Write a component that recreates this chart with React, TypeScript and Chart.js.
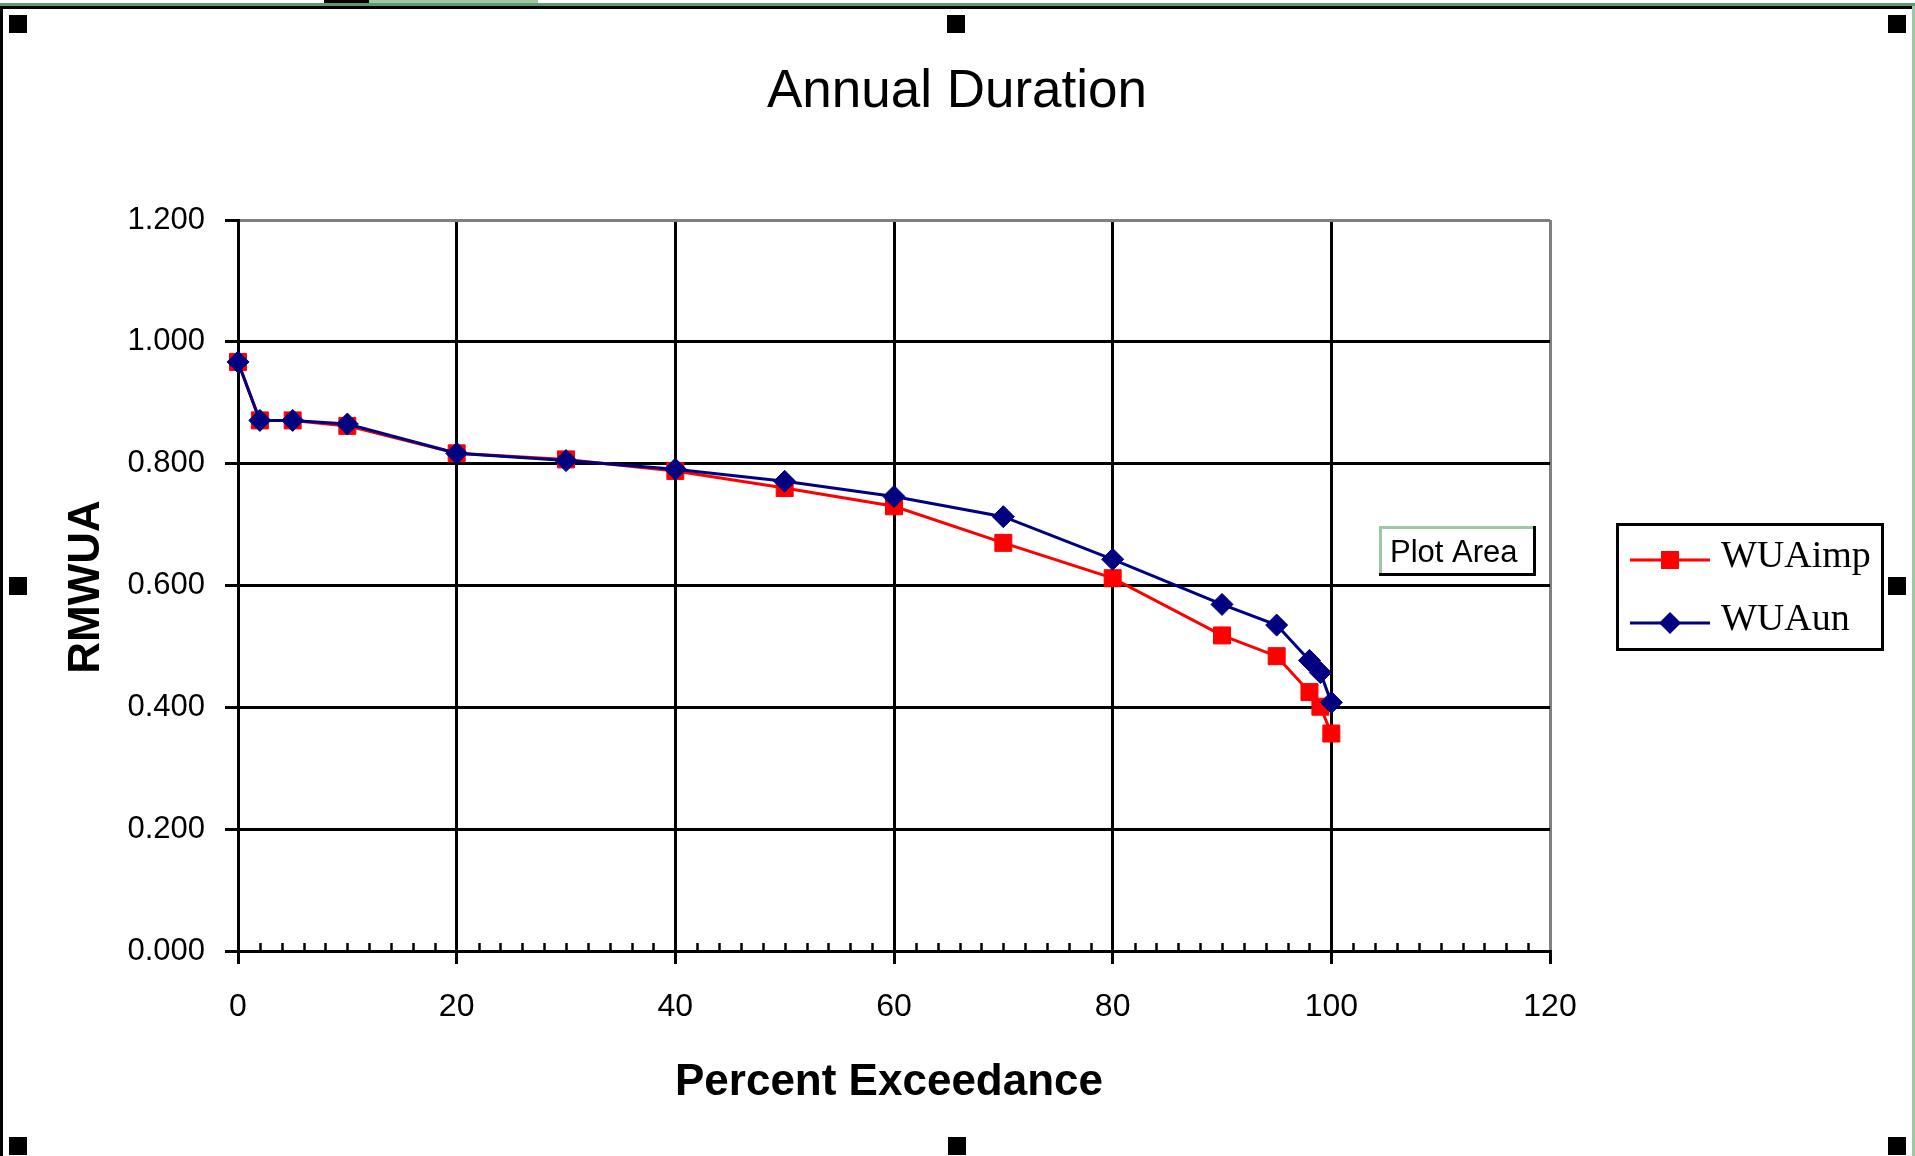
import React, { useEffect, useRef } from "react";
import { Chart, registerables } from "chart.js";

Chart.register(...registerables);

// ---- data ----
const percentExceedance = [0, 2, 5, 10, 20, 30, 40, 50, 60, 70, 80, 90, 95, 98, 99, 100];
const wuaImp = [0.967, 0.871, 0.871, 0.862, 0.817, 0.807, 0.788, 0.76, 0.73, 0.67, 0.612, 0.518, 0.484, 0.425, 0.401, 0.357];
const wuaUn = [0.967, 0.871, 0.871, 0.865, 0.817, 0.805, 0.791, 0.771, 0.746, 0.713, 0.643, 0.569, 0.535, 0.477, 0.457, 0.408];
const seriesNames = ["WUAimp", "WUAun"];
const xTickValues = [0, 20, 40, 60, 80, 100, 120];
const yTickValues = [0, 0.2, 0.4, 0.6, 0.8, 1.0, 1.2];
const chartTitle = "Annual Duration";
const xAxisTitle = "Percent Exceedance";
const yAxisTitle = "RMWUA";
const hoverTip = "Plot Area";

// ---- layout / style ----
const W = 1915;
const H = 1156;
const SANS = "'Liberation Sans', Arial, sans-serif";
const SERIF = "'Liberation Serif', 'Times New Roman', serif";
const RED = "#ff0000";
const NAVY = "#000080";
const FRAME_GREEN = "#5f9a6e";
const LIGHT_GREEN = "#9ec7a6";

function handle(ctx: CanvasRenderingContext2D, cx: number, cy: number) {
  ctx.fillStyle = "#000";
  ctx.fillRect(cx - 9, cy - 9, 18, 18);
}

const decorPlugin = {
  id: "decor",
  beforeDraw(chart: any) {
    const ctx: CanvasRenderingContext2D = chart.ctx;
    ctx.save();
    ctx.fillStyle = "#ffffff";
    ctx.fillRect(0, 0, chart.width, chart.height);
    ctx.restore();
  },
  afterDraw(chart: any) {
    const ctx: CanvasRenderingContext2D = chart.ctx;
    const xs = chart.scales.x;
    const area = chart.chartArea;
    ctx.save();

    // minor tick marks on the horizontal axis, inside the plot
    ctx.strokeStyle = "#000";
    ctx.lineWidth = 2.5;
    for (let v = 2; v < 120; v += 2) {
      if (v % 20 === 0) continue;
      const px = Math.round(xs.getPixelForValue(v)) + 0.5;
      ctx.beginPath();
      ctx.moveTo(px, area.bottom - 8);
      ctx.lineTo(px, area.bottom);
      ctx.stroke();
    }

    // window frame
    ctx.fillStyle = FRAME_GREEN;
    ctx.fillRect(0, 3, W, 3);
    ctx.fillStyle = "#000";
    ctx.fillRect(0, 6, 1912, 3);
    ctx.fillRect(0, 6, 3, H - 6);
    ctx.fillRect(324, 0, 45, 3);
    ctx.fillStyle = LIGHT_GREEN;
    ctx.fillRect(369, 0, 169, 3);
    ctx.fillRect(1912, 6, 3, H - 6);

    // selection handles
    handle(ctx, 18, 24);
    handle(ctx, 956, 24);
    handle(ctx, 1897, 24);
    handle(ctx, 18, 586);
    handle(ctx, 1897, 586);
    handle(ctx, 18, 1146);
    handle(ctx, 957, 1146);
    handle(ctx, 1897, 1146);

    // chart title
    ctx.fillStyle = "#000";
    ctx.textAlign = "center";
    ctx.textBaseline = "alphabetic";
    ctx.font = `53px ${SANS}`;
    ctx.fillText(chartTitle, 957, 107);

    // axis titles
    ctx.font = `bold 44px ${SANS}`;
    ctx.fillText(xAxisTitle, 889, 1095);
    ctx.save();
    ctx.translate(99, 587);
    ctx.rotate(-Math.PI / 2);
    ctx.fillText(yAxisTitle, 0, 0);
    ctx.restore();

    // hover tip box
    const tx = 1379, ty = 526, tw = 157, th = 50;
    ctx.fillStyle = "#fff";
    ctx.fillRect(tx, ty, tw, th);
    ctx.fillStyle = LIGHT_GREEN;
    ctx.fillRect(tx, ty, tw, 3);
    ctx.fillRect(tx, ty, 3, th);
    ctx.fillStyle = "#000";
    ctx.fillRect(tx + tw - 3, ty, 3, th);
    ctx.fillRect(tx, ty + th - 3, tw, 3);
    ctx.textAlign = "left";
    ctx.font = `31px ${SANS}`;
    ctx.fillText(hoverTip, 1390, 562);

    // legend
    const lx = 1616, ly = 523, lw = 268, lh = 128;
    ctx.fillStyle = "#fff";
    ctx.fillRect(lx, ly, lw, lh);
    ctx.strokeStyle = "#000";
    ctx.lineWidth = 3;
    ctx.strokeRect(lx + 1.5, ly + 1.5, lw - 3, lh - 3);
    const rows = [560, 623];
    chart.data.datasets.forEach((ds: any, i: number) => {
      const y = rows[i];
      ctx.strokeStyle = ds.borderColor;
      ctx.lineWidth = 3;
      ctx.beginPath();
      ctx.moveTo(1630, y);
      ctx.lineTo(1710, y);
      ctx.stroke();
      ctx.fillStyle = ds.borderColor;
      if (ds.pointStyle === "rect") {
        ctx.fillRect(1670 - 9, y - 9, 18, 18);
      } else {
        ctx.beginPath();
        ctx.moveTo(1670, y - 11);
        ctx.lineTo(1681, y);
        ctx.lineTo(1670, y + 11);
        ctx.lineTo(1659, y);
        ctx.closePath();
        ctx.fill();
      }
      ctx.fillStyle = "#000";
      ctx.font = `38px ${SERIF}`;
      ctx.textAlign = "left";
      ctx.fillText(ds.label, 1721, y + 7);
    });

    ctx.restore();
  },
};

export default function App() {
  const ref = useRef<HTMLCanvasElement>(null);

  useEffect(() => {
    const canvas = ref.current;
    if (!canvas) return;
    Chart.defaults.font.family = SANS;
    Chart.defaults.color = "#000";

    const chart = new Chart(canvas, {
      type: "line",
      data: {
        datasets: [
          {
            label: seriesNames[0],
            data: percentExceedance.map((x, i) => ({ x, y: wuaImp[i] })),
            borderColor: RED,
            backgroundColor: RED,
            borderWidth: 3,
            pointStyle: "rect",
            pointRadius: 12,
            pointBorderWidth: 1,
            pointBackgroundColor: RED,
            pointBorderColor: RED,
            tension: 0,
            clip: false,
            order: 1,
          },
          {
            label: seriesNames[1],
            data: percentExceedance.map((x, i) => ({ x, y: wuaUn[i] })),
            borderColor: NAVY,
            backgroundColor: NAVY,
            borderWidth: 3,
            pointStyle: "rectRot",
            pointRadius: 11,
            pointBorderWidth: 1,
            pointBackgroundColor: NAVY,
            pointBorderColor: NAVY,
            tension: 0,
            clip: false,
            order: 0,
          },
        ],
      },
      options: {
        responsive: false,
        animation: false,
        devicePixelRatio: 1,
        events: [],
        layout: { padding: { left: 0, top: 220, right: 365, bottom: 0 } },
        plugins: {
          legend: { display: false },
          title: { display: false },
          tooltip: { enabled: false },
        },
        scales: {
          x: {
            type: "linear",
            min: 0,
            max: 120,
            afterBuildTicks: (s: any) => {
              s.ticks = xTickValues.map((v) => ({ value: v }));
            },
            afterFit: (s: any) => {
              s.height = 205;
            },
            grid: {
              color: (c: any) => (c.tick && c.tick.value === 120 ? "#808080" : "#000"),
              lineWidth: 3,
              tickColor: "#000",
              tickWidth: 3,
              tickLength: 13,
            },
            border: { color: "#000", width: 3 },
            ticks: {
              font: { size: 32, family: SANS },
              color: "#000",
              padding: 24,
              maxRotation: 0,
              callback: (v: any) => String(v),
            },
          },
          y: {
            type: "linear",
            min: 0,
            max: 1.2,
            afterBuildTicks: (s: any) => {
              s.ticks = yTickValues.map((v) => ({ value: v }));
            },
            afterFit: (s: any) => {
              s.width = 238;
            },
            grid: {
              color: (c: any) => (c.tick && Math.abs(c.tick.value - 1.2) < 1e-6 ? "#808080" : "#000"),
              lineWidth: 3,
              tickColor: "#000",
              tickWidth: 3,
              tickLength: 13,
            },
            border: { color: "#000", width: 3 },
            ticks: {
              font: { size: 31, family: SANS },
              color: "#000",
              padding: 20,
              callback: (v: any) => Number(v).toFixed(3),
            },
          },
        },
      },
      plugins: [decorPlugin],
    } as any);

    return () => chart.destroy();
  }, []);

  return (
    <div style={{ position: "absolute", left: 0, top: 0, width: W, height: H, background: "#fff" }}>
      <canvas ref={ref} width={W} height={H} style={{ display: "block", width: W, height: H }} />
    </div>
  );
}
